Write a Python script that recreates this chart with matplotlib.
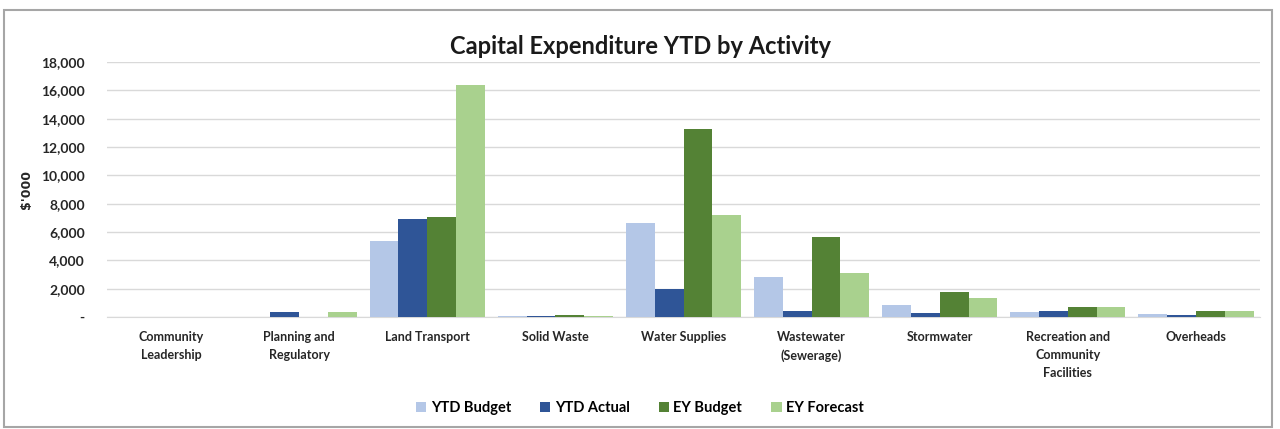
import numpy as np
import matplotlib
matplotlib.use("Agg")
import matplotlib.pyplot as plt
from matplotlib.ticker import FuncFormatter
from matplotlib.patches import Rectangle

plt.rcParams['font.family'] = ['Lato', 'DejaVu Sans']

categories = ["Community\nLeadership", "Planning and\nRegulatory", "Land Transport",
              "Solid Waste", "Water Supplies", "Wastewater\n(Sewerage)", "Stormwater",
              "Recreation and\nCommunity\nFacilities", "Overheads"]
series_names = ["YTD Budget", "YTD Actual", "EY Budget", "EY Forecast"]
ytd_budget = [0, 0, 5400, 80, 6650, 2850, 850, 330, 190]
ytd_actual = [0, 380, 6950, 100, 2000, 420, 260, 420, 120]
ey_budget = [0, 0, 7030, 120, 13250, 5650, 1740, 690, 420]
ey_forecast = [0, 350, 16400, 60, 7200, 3130, 1370, 700, 420]
colors = ["#B4C7E7", "#2F5597", "#548235", "#A9D18E"]

fig = plt.figure(figsize=(12.8, 4.29), dpi=100)
# chart border
fig.patches.append(Rectangle((4 / 1280, 2 / 429), 1268 / 1280, 417 / 429,
                             transform=fig.transFigure, fill=False,
                             edgecolor="#A6A6A6", linewidth=1.5))

ax = fig.add_axes([107 / 1280, 1 - 317 / 429, 1153 / 1280, 255 / 429])

x = np.arange(len(categories))
w = 0.225
all_series = [ytd_budget, ytd_actual, ey_budget, ey_forecast]
for i, (vals, name) in enumerate(zip(all_series, series_names)):
    ax.bar(x + (i - 1.5) * w, vals, w, color=colors[i], label=name, zorder=3)

ax.set_xlim(-0.5, len(categories) - 0.5)
ax.set_ylim(0, 18000)
ax.set_yticks(np.arange(0, 18001, 2000))
ax.yaxis.set_major_formatter(FuncFormatter(lambda v, p: "-" if v == 0 else f"{int(v):,}"))
ax.set_xticks(x)
ax.set_xticklabels(categories, fontsize=9, fontweight="bold", color="#262626",
                   linespacing=1.6)
for lab in ax.get_yticklabels():
    lab.set_fontsize(10)
    lab.set_fontweight("bold")
    lab.set_color("#262626")
ax.tick_params(axis="both", length=0)
ax.tick_params(axis="x", pad=10)
ax.tick_params(axis="y", pad=16)
ax.grid(axis="y", color="#D9D9D9", linewidth=1, zorder=0)
for s in ["top", "right", "left"]:
    ax.spines[s].set_visible(False)
ax.spines["bottom"].set_color("#D9D9D9")

ax.set_ylabel("$'000", fontsize=9, fontweight="bold", color="#262626", labelpad=6,
              family=["DejaVu Sans"])

fig.text(0.5, 1 - 47 / 429, "Capital Expenditure YTD by Activity", ha="center",
         va="center", fontsize=17, fontweight="bold", color="#1a1a1a")

fig.legend(loc="center", bbox_to_anchor=(0.5, 1 - 408 / 429), ncol=4, frameon=False,
           prop={"size": 10.5, "weight": "bold"}, handlelength=0.7, handleheight=0.7,
           handletextpad=0.3, columnspacing=2.0)

fig.savefig("out.png", dpi=100)
